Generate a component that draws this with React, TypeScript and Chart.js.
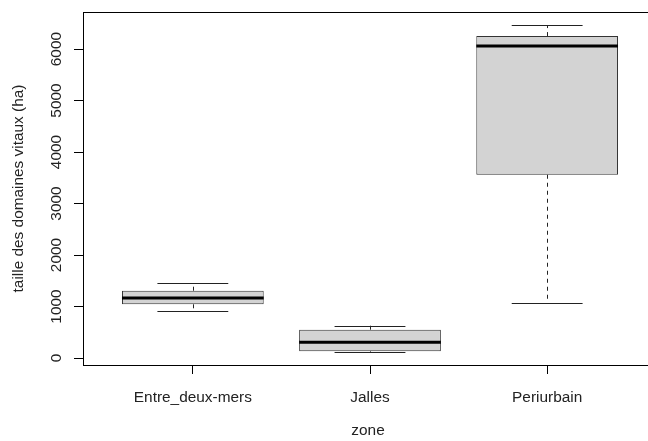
import React, { useEffect, useRef } from "react";
import { Chart, registerables } from "chart.js";

Chart.register(...registerables);

const categories = ["Entre_deux-mers", "Jalles", "Periurbain"];
const whiskerLow = [918, 118, 1074];
const q1 = [1043, 130, 3559];
const median = [1165, 305, 6058];
const q3 = [1307, 550, 6252];
const whiskerHigh = [1462, 627, 6466];
const yTicks = [0, 1000, 2000, 3000, 4000, 5000, 6000];

const xTitle = "zone";
const yTitle = "taille des domaines vitaux (ha)";

const FONT = "15.4px 'Liberation Sans', Arial, sans-serif";
const TEXT = "#222";

export default function App() {
  const ref = useRef<HTMLCanvasElement | null>(null);

  useEffect(() => {
    document.body.style.margin = "0";
    const canvas = ref.current;
    if (!canvas) return;

    const lo = Math.min(...whiskerLow);
    const hi = Math.max(...whiskerHigh);
    const ext = 0.04 * (hi - lo);
    const n = categories.length;
    const xExt = 0.04 * n;

    const boxPlugin = {
      id: "boxParts",
      afterDatasetsDraw(chart: any) {
        const { ctx, scales, chartArea } = chart;
        const xs = scales.x;
        const ys = scales.y;
        ctx.save();
        for (let i = 0; i < n; i++) {
          const cx = Math.round(xs.getPixelForValue(i + 1)) + 0.5;
          const capL = xs.getPixelForValue(i + 1 - 0.2);
          const capR = xs.getPixelForValue(i + 1 + 0.2);
          ctx.strokeStyle = "#222";
          ctx.lineWidth = 1;
          ctx.setLineDash([4, 4]);
          ctx.beginPath();
          ctx.moveTo(cx, ys.getPixelForValue(q3[i]));
          ctx.lineTo(cx, ys.getPixelForValue(whiskerHigh[i]));
          ctx.moveTo(cx, ys.getPixelForValue(q1[i]));
          ctx.lineTo(cx, ys.getPixelForValue(whiskerLow[i]));
          ctx.stroke();
          ctx.setLineDash([]);
          ctx.beginPath();
          const yh = Math.round(ys.getPixelForValue(whiskerHigh[i])) + 0.5;
          const yl = Math.round(ys.getPixelForValue(whiskerLow[i])) + 0.5;
          ctx.moveTo(capL, yh);
          ctx.lineTo(capR, yh);
          ctx.moveTo(capL, yl);
          ctx.lineTo(capR, yl);
          ctx.stroke();
          ctx.strokeStyle = "#000";
          ctx.lineWidth = 3;
          ctx.beginPath();
          const ym = ys.getPixelForValue(median[i]);
          ctx.moveTo(xs.getPixelForValue(i + 1 - 0.4), ym);
          ctx.lineTo(xs.getPixelForValue(i + 1 + 0.4), ym);
          ctx.stroke();
        }
        ctx.strokeStyle = "#000";
        ctx.lineWidth = 1;
        ctx.strokeRect(
          Math.round(chartArea.left) + 0.5,
          Math.round(chartArea.top) + 0.5,
          Math.round(chartArea.right - chartArea.left),
          Math.round(chartArea.bottom - chartArea.top)
        );
        ctx.fillStyle = TEXT;
        ctx.font = FONT;
        ctx.textBaseline = "alphabetic";
        ctx.textAlign = "center";
        for (let i = 0; i < n; i++) {
          ctx.fillText(categories[i], xs.getPixelForValue(i + 1), 402);
        }
        ctx.fillText(xTitle, (chartArea.left + chartArea.right) / 2 - 2, 435);
        for (const t of yTicks) {
          ctx.save();
          ctx.translate(61, ys.getPixelForValue(t));
          ctx.rotate(-Math.PI / 2);
          ctx.fillText(String(t), 0, 0);
          ctx.restore();
        }
        ctx.save();
        ctx.translate(23, (chartArea.top + chartArea.bottom) / 2);
        ctx.rotate(-Math.PI / 2);
        ctx.fillText(yTitle, 0, 0);
        ctx.restore();
        ctx.restore();
      },
    };

    const chart = new Chart(canvas, {
      type: "bar",
      data: {
        datasets: [
          {
            data: categories.map((_, i) => ({ x: i + 1, y: [q1[i], q3[i]] })) as any,
            backgroundColor: "#D3D3D3",
            borderColor: "#333",
            borderWidth: 1,
            borderSkipped: false,
            categoryPercentage: 1,
            barPercentage: 0.8,
          },
        ],
      },
      options: {
        responsive: false,
        animation: false,
        devicePixelRatio: 1,
        layout: { padding: { left: 0, top: 12, right: 7, bottom: 0 } },
        plugins: { legend: { display: false }, tooltip: { enabled: false } },
        scales: {
          x: {
            type: "linear",
            offset: false,
            min: 0.5 - xExt,
            max: n + 0.5 + xExt,
            afterBuildTicks: (s: any) => {
              s.ticks = categories.map((_, i) => ({ value: i + 1 }));
            },
            afterFit: (s: any) => {
              s.height = 76;
            },
            ticks: { display: false },
            grid: { offset: false, drawOnChartArea: false, drawTicks: true, tickLength: 9, color: "#000" },
            border: { display: true, color: "#000", width: 1 },
          },
          y: {
            type: "linear",
            min: lo - ext,
            max: hi + ext,
            afterBuildTicks: (s: any) => {
              s.ticks = yTicks.map((v) => ({ value: v }));
            },
            afterFit: (s: any) => {
              s.width = 83;
            },
            ticks: { display: false },
            grid: { drawOnChartArea: false, drawTicks: true, tickLength: 9, color: "#000" },
            border: { display: true, color: "#000", width: 1 },
          },
        },
      },
      plugins: [boxPlugin],
    });
    return () => chart.destroy();
  }, []);

  return (
    <div style={{ width: 648, height: 441, overflow: "hidden", background: "#fff" }}>
      <canvas ref={ref} width={664} height={441} style={{ display: "block", width: 664, height: 441 }} />
    </div>
  );
}
